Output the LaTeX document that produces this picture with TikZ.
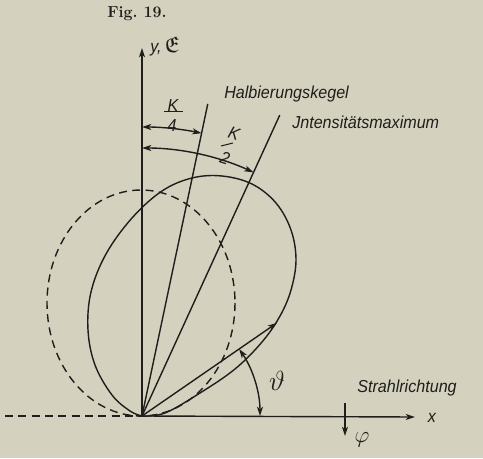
\documentclass[tikz,border=0pt]{standalone}
\usepackage{fontspec}
\usepackage{amssymb}
\usetikzlibrary{arrows.meta}
\newfontfamily\labfont[FakeStretch=0.93]{Liberation Sans}
\definecolor{paper}{RGB}{212,209,190}
\definecolor{ink}{RGB}{30,30,28}
\begin{document}
\begin{tikzpicture}[x=0.75pt,y=-0.75pt,
  line/.style={draw=ink,line width=1.05pt},
  thin/.style={draw=ink,line width=0.75pt},
  dsh/.style={draw=ink,line width=1.05pt,dash pattern=on 6pt off 4pt},
  tip/.style={-{Stealth[length=7pt,width=4.5pt,inset=2pt]}},
  dtip/.style={{Stealth[length=7pt,width=4.5pt,inset=2pt]}-{Stealth[length=7pt,width=4.5pt,inset=2pt]}},
  lab/.style={text=ink,font=\labfont\itshape\fontsize{13}{14}\selectfont,inner sep=0pt}]
\fill[paper] (0,0) rectangle (483,458);
\useasboundingbox (0,0) rectangle (483,458);
% origin and axis ends
\coordinate (O) at (142,416);
\coordinate (yend) at (142,48);
\coordinate (xend) at (415,417);
\coordinate (dl) at (5,416);
\coordinate (hk) at ([shift={(-78.1:319)}]O);
\coordinate (im) at ([shift={(-65.4:331)}]O);
\coordinate (tt) at ([shift={(-34.6:164)}]O);
\coordinate (ph1) at (345,403);
\coordinate (ph2) at (345,436);
% axes
\draw[line,tip] (O) -- (yend);
\draw[line,tip] (O) -- (xend);
\draw[dsh] (dl) -- (O);
% cone lines
\draw[line] (O) -- (hk);
\draw[line] (O) -- (im);
% dashed circle-like curve
\draw[dsh] (141,303) ellipse [x radius=94, y radius=113];
% solid lobe
\draw[line] plot[smooth,tension=0.6] coordinates {(142,416) (165,413) (200,393) (235,369) (262,342) (280,316) (291,290) (296,260) (291,230) (276,203) (252,184) (222,176) (192,178) (162,191) (132,218) (106,254) (91,292) (88,330) (95,365) (112,395) (130,411) (142,416)};
% theta vector
\draw[line,tip] (O) -- (tt);
% angle arcs
\draw[line,dtip] ([shift={(-90:289)}]O) arc[start angle=-90,end angle=-78.1,radius=289];
\draw[line,dtip] ([shift={(-90:268)}]O) arc[start angle=-90,end angle=-65.4,radius=268];
\draw[line,dtip] ([shift={(0:118)}]O) arc[start angle=0,end angle=-34.6,radius=118];
% phi arrow
\draw[line,tip] (ph1) -- (ph2);
% labels
\node[text=ink,font=\bfseries\fontsize{12}{14}\selectfont] (fig) at (137,14) {Fig.\ 19.};
\node[lab,anchor=west] (ylab) at (150,46) {y,\,{\fontsize{17}{18}\selectfont$\mathfrak{E}$}};
\node[lab,anchor=west] (hlab) at (224,94) {Halbierungskegel};
\node[lab,anchor=west] (ilab) at (292,122) {Jntensitätsmaximum};
% K/4
\node[lab] (k4n) at (173,106) {K};
\node[lab] (k4d) at (172,126) {4};
\draw[thin] (k4n.south west) ++(-3,-1) coordinate (k4a) -- ++(19,0) coordinate (k4b);
% K/2 (slanted)
\node[lab,rotate=-18] (k2n) at (234,133) {K};
\node[lab,rotate=-18] (k2d) at (225,158) {2};
\coordinate (k2a) at (221,146);
\coordinate (k2b) at (233,143);
\draw[thin] (k2a) -- (k2b);
\node[text=ink,font=\fontsize{21}{23}\selectfont] (th) at (277,381) {$\vartheta$};
\node[lab,anchor=west] (slab) at (357,388) {Strahlrichtung};
\node[lab] (xlab) at (432,418) {x};
\node[text=ink,font=\fontsize{16}{18}\selectfont] (phl) at (362,440) {$\varphi$};
\end{tikzpicture}
\end{document}
